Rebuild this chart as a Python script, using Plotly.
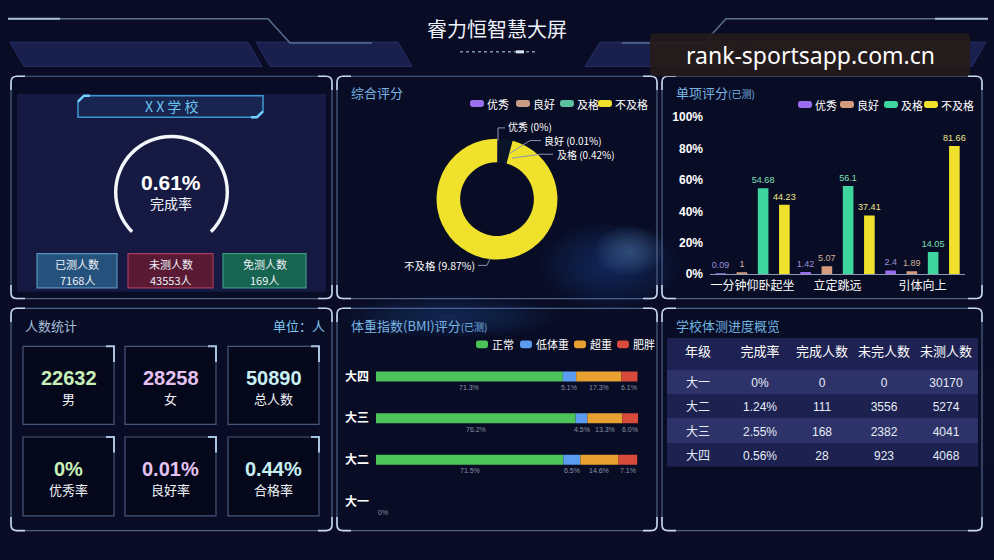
import plotly.graph_objects as go

W, H = 994, 560

# ---------------- data ----------------
school_name = "X X 学 校"
completion_rate = "0.61%"
gauge_arc = [75, 25]  # decorative ring (arc / gap)
summary_labels = ["已测人数", "未测人数", "免测人数"]
summary_values = ["7168人", "43553人", "169人"]

pie_labels = ["优秀", "良好", "及格", "不及格"]
pie_values = [0, 0.01, 0.42, 9.87]
pie_text = ["优秀 (0%)", "良好 (0.01%)", "及格 (0.42%)", "不及格 (9.87%)"]

item_categories = ["一分钟仰卧起坐", "立定跳远", "引体向上"]
item_series = ["优秀", "良好", "及格", "不及格"]
item_excellent = [0.09, 1.42, 2.4]
item_good = [1, 5.07, 1.89]
item_pass = [54.68, 56.1, 14.05]
item_fail = [44.23, 37.41, 81.66]
item_ticks = [0, 20, 40, 60, 80, 100]
item_tick_labels = ["0%", "20%", "40%", "60%", "80%", "100%"]

stats_values = ["22632", "28258", "50890", "0%", "0.01%", "0.44%"]
stats_labels = ["男", "女", "总人数", "优秀率", "良好率", "合格率"]

bmi_grades = ["大一", "大二", "大三", "大四"]
bmi_series = ["正常", "低体重", "超重", "肥胖"]
bmi_normal = [0, 71.5, 76.2, 71.3]
bmi_under = [0, 6.5, 4.5, 5.1]
bmi_over = [0, 14.6, 13.3, 17.3]
bmi_obese = [0, 7.1, 6.0, 6.1]

table_header = ["年级", "完成率", "完成人数", "未完人数", "未测人数"]
table_grade = ["大一", "大二", "大三", "大四"]
table_rate = ["0%", "1.24%", "2.55%", "0.56%"]
table_done = [0, 111, 168, 28]
table_undone = [0, 3556, 2382, 923]
table_untested = [30170, 5274, 4041, 4068]

# ---------------- helpers ----------------
def px(x):
    return x / W


def py(y):
    return 1 - y / H


shapes = []
annotations = []
CJK = "Noto Sans CJK SC, Liberation Sans, sans-serif"
LAT = "Liberation Sans, Noto Sans CJK SC, sans-serif"


def poly(pts, fill=None, line=None, lw=1, closed=True, layer="below", dash=None, opacity=1):
    d = "M" + " L".join(f"{px(x):.5f},{py(y):.5f}" for x, y in pts)
    if closed:
        d += " Z"
    s = dict(type="path", path=d, xref="paper", yref="paper", layer=layer, opacity=opacity,
             fillcolor=fill if fill else "rgba(0,0,0,0)",
             line=dict(color=line if line else "rgba(0,0,0,0)", width=lw if line else 0))
    if dash:
        s["line"]["dash"] = dash
    shapes.append(s)


def rrect(x0, y0, x1, y1, r=0, fill=None, line=None, lw=1, layer="below", opacity=1):
    if r == 0:
        poly([(x0, y0), (x1, y0), (x1, y1), (x0, y1)], fill, line, lw, layer=layer, opacity=opacity)
        return
    P = lambda x, y: f"{px(x):.5f},{py(y):.5f}"
    d = (f"M{P(x0 + r, y0)} L{P(x1 - r, y0)} Q{P(x1, y0)} {P(x1, y0 + r)} "
         f"L{P(x1, y1 - r)} Q{P(x1, y1)} {P(x1 - r, y1)} L{P(x0 + r, y1)} "
         f"Q{P(x0, y1)} {P(x0, y1 - r)} L{P(x0, y0 + r)} Q{P(x0, y0)} {P(x0 + r, y0)} Z")
    shapes.append(dict(type="path", path=d, xref="paper", yref="paper", layer=layer, opacity=opacity,
                       fillcolor=fill if fill else "rgba(0,0,0,0)",
                       line=dict(color=line if line else "rgba(0,0,0,0)", width=lw if line else 0)))


def corners(x0, y0, x1, y1, r=6, L=14, color="#c6d6ee", lw=1.6):
    P = lambda x, y: f"{px(x):.5f},{py(y):.5f}"
    segs = [
        f"M{P(x0, y0 + L)} L{P(x0, y0 + r)} Q{P(x0, y0)} {P(x0 + r, y0)} L{P(x0 + L, y0)}",
        f"M{P(x1 - L, y0)} L{P(x1 - r, y0)} Q{P(x1, y0)} {P(x1, y0 + r)} L{P(x1, y0 + L)}",
        f"M{P(x0, y1 - L)} L{P(x0, y1 - r)} Q{P(x0, y1)} {P(x0 + r, y1)} L{P(x0 + L, y1)}",
        f"M{P(x1 - L, y1)} L{P(x1 - r, y1)} Q{P(x1, y1)} {P(x1, y1 - r)} L{P(x1, y1 - L)}",
    ]
    for d in segs:
        shapes.append(dict(type="path", path=d, xref="paper", yref="paper", layer="below",
                           fillcolor="rgba(0,0,0,0)", line=dict(color=color, width=lw)))


def glow(cx, cy, rx, ry, rgb, alpha, steps=10):
    # soft nebula glow: stacked translucent ellipses
    for i in range(steps):
        f = 1 - i / steps
        shapes.append(dict(type="circle", xref="paper", yref="paper",
                           x0=px(cx - rx * f), x1=px(cx + rx * f),
                           y0=py(cy + ry * f), y1=py(cy - ry * f),
                           fillcolor=f"rgba({rgb},{alpha})", line=dict(width=0), layer="below"))


def txt(x, y, text, size=12, color="white", anchor="center", family=CJK):
    annotations.append(dict(x=px(x), y=py(y), xref="paper", yref="paper", text=text,
                            showarrow=False, xanchor=anchor, yanchor="middle", borderpad=0,
                            font=dict(size=size, color=color, family=family)))


def swatch(x, y, color, w=14, h=7):
    rrect(x, y - h / 2, x + w, y + h / 2, r=2.5, fill=color)


# ---------------- background / header ----------------
poly([(10, 36), (248, 36), (262, 61), (24, 61)], fill="#19204d", line="#262e66", lw=1)
poly([(256, 36), (398, 36), (412, 61), (270, 61)], fill="#19204d", line="#262e66", lw=1)
poly([(585, 61), (600, 36), (742, 36), (727, 61)], fill="#19204d", line="#262e66", lw=1)
poly([(735, 61), (750, 36), (986, 36), (972, 61)], fill="#19204d", line="#262e66", lw=1)

poly([(8, 12), (268, 12), (290, 37), (372, 37)], line="#5a6e92", lw=1.5, closed=False)
poly([(622, 37), (704, 37), (726, 12), (988, 12)], line="#5a6e92", lw=1.5, closed=False)
poly([(8, 12), (60, 12)], line="#a8bcd8", lw=2, closed=False)
poly([(935, 12), (988, 12)], line="#a8bcd8", lw=2, closed=False)
poly([(460, 46), (536, 46)], line="#7c90b4", lw=1.5, closed=False, dash="dot")
poly([(516, 46), (524, 46)], line="#d8e4f4", lw=3, closed=False)

txt(497, 22, "睿力恒智慧大屏", size=20, color="#eef2fa")

# ---------------- panels ----------------
panels = [(11, 71, 332, 299), (337, 71, 657, 299), (662, 71, 982, 299),
          (11, 309, 332, 537), (337, 309, 657, 537), (662, 309, 982, 537)]
for (x0, y0, x1, y1) in panels:
    rrect(x0, y0, x1, y1, r=6, fill="rgba(8,12,36,0.55)", line="#4f6288", lw=1.2)

# nebula glow (panel 2 lower right, panel 5 top)
glow(610, 265, 70, 45, "60,110,200", 0.04)
glow(630, 250, 35, 25, "120,170,235", 0.04)
glow(450, 318, 110, 22, "60,110,200", 0.035)

for (x0, y0, x1, y1) in panels:
    corners(x0, y0, x1, y1)

# panel 1: school summary
rrect(17, 89, 326, 292, fill="#161a42")
poly([(84, 91), (263, 91), (263, 107), (257, 113), (78, 113), (78, 97)],
     fill="rgba(30,60,110,0.35)", line="#3a9ad0", lw=1.5)
poly([(78, 97), (84, 91), (90, 91)], line="#6fd0ff", lw=2.5, closed=False)
poly([(263, 107), (257, 113), (251, 113)], line="#6fd0ff", lw=2.5, closed=False)
txt(171, 102, school_name, size=14, color="#6cc4ec")
txt(171, 180, f"<b>{completion_rate}</b>", size=21, color="white", family=LAT)
txt(171, 201, "完成率", size=14, color="#f0f2f8")

box_specs = [((37, 253, 117, 288), "#25527c", "#5a92bc"),
             ((128, 253, 213, 288), "#5a1a34", "#a83c5a"),
             ((223, 253, 306, 288), "#176450", "#3b9c80")]
for ((x0, y0, x1, y1), f, l), lab, val in zip(box_specs, summary_labels, summary_values):
    rrect(x0, y0, x1, y1, fill=f, line=l, lw=1.2)
    cx = (x0 + x1) / 2
    txt(cx, 264, lab, size=11, color="#eef2f8")
    txt(cx, 279.5, val, size=11, color="#eef2f8")

# panel 2: pie titles / legend
txt(350, 88, "综合评分", size=13, color="#78b4e4", anchor="left")
pie_colors = ["#9a70f0", "#c99c84", "#5cc0a0", "#f0e22c"]
for x, lab, c in zip([470, 516, 560, 598], pie_labels, pie_colors):
    swatch(x, 99, c)
    txt(x + 16, 99, lab, size=11, color="white", anchor="left")

# pie labels + leader lines
lc = "#8b95ac"
poly([(505, 124), (498, 124), (498, 137)], line=lc, lw=1, closed=False, layer="above")
poly([(541, 137), (530, 137), (510, 150)], line=lc, lw=1, closed=False, layer="above")
poly([(553, 151), (540, 151), (512, 155)], line=lc, lw=1, closed=False, layer="above")
poly([(478, 265), (487, 265), (490, 258)], line=lc, lw=1, closed=False, layer="above")
txt(507, 123, pie_text[0], size=10, color="white", anchor="left")
txt(543, 137, pie_text[1], size=10, color="white", anchor="left")
txt(556, 151, pie_text[2], size=10, color="white", anchor="left")
txt(476, 265, pie_text[3], size=10.5, color="white", anchor="right")

# panel 3: bar titles / legend
txt(675, 88, "单项评分<span style='font-size:10px'>(已测)</span>", size=13, color="#78b4e4", anchor="left")
item_colors = ["#9b6cf0", "#d49c7c", "#3ed69e", "#f0e22c"]
label_colors = ["#9c8cd8", "#d2b29a", "#7fe0bc", "#f2ea8c"]
for x, lab, c in zip([798, 840, 884, 924], item_series, item_colors):
    swatch(x, 100, c)
    txt(x + 16, 100, lab, size=11, color="white", anchor="left")

# panel 4: statistics
txt(24, 327, "人数统计", size=13, color="#a8c0dc", anchor="left")
txt(326, 327, "单位：人", size=13, color="#7ec8f0", anchor="right")
cols = [(23, 114), (125, 216), (228, 319)]
rows = [(348, 428), (441, 522)]
num_colors = ["#c8f0b8", "#e6c2f2", "#c8f0f4"]
k = 0
for (y0, y1) in rows:
    for ci, (x0, x1) in enumerate(cols):
        rrect(x0, y0, x1, y1, fill="rgba(4,6,18,0.55)", line="#48587a", lw=1.2)
        poly([(x1 - 8, y0), (x1, y0), (x1, y0 + 16)], line="#a8c4e0", lw=2, closed=False)
        cx = (x0 + x1) / 2
        txt(cx, y0 + 33, f"<b>{stats_values[k]}</b>", size=20, color=num_colors[ci], family=LAT)
        txt(cx, y0 + 54, stats_labels[k], size=13, color="#f0f2f8")
        k += 1

# panel 5: BMI titles / legend
txt(350, 327, "体重指数(BMI)评分<span style='font-size:10px'>(已测)</span>", size=13,
    color="#78b4e4", anchor="left")
bmi_colors = ["#4cc45a", "#5b9bf0", "#e8a030", "#d84a3a"]
for x, lab, c in zip([476, 520, 574, 617], bmi_series, bmi_colors):
    swatch(x, 346, c, w=12, h=8)
    txt(x + 15, 346, lab, size=11, color="white", anchor="left")

# panel 6: table title + background
txt(675, 327, "学校体测进度概览", size=13, color="#70b4e0", anchor="left")
rrect(667, 340, 977, 470, r=6, fill="#1d2252")

# watermark
rrect(650, 27, 970, 71, r=5, fill="rgba(36,27,25,0.94)", layer="above")
txt(810, 49, "rank-sportsapp.com.cn", size=23, color="white", family="Noto Sans, sans-serif")

# ---------------- traces ----------------
fig = go.Figure()

# gauge ring
fig.add_trace(go.Pie(values=gauge_arc, marker=dict(colors=["#f4f6fa", "rgba(0,0,0,0)"], line=dict(width=0)),
                     hole=0.94, sort=False, direction="clockwise", rotation=225, textinfo="none",
                     hoverinfo="skip", showlegend=False,
                     domain=dict(x=[px(171.5 - 59), px(171.5 + 59)], y=[py(190 + 59), py(190 - 59)])))

# donut
fig.add_trace(go.Pie(labels=pie_labels, values=pie_values,
                     marker=dict(colors=["#9a70f0", "#c99c84", "rgba(60,190,150,0.05)", "#f0e22c"],
                                 line=dict(width=0)),
                     hole=0.61, sort=False, direction="clockwise", rotation=0, textinfo="none",
                     hoverinfo="label+percent", showlegend=False,
                     domain=dict(x=[px(435), px(559)], y=[py(259), py(135)])))

# grouped bars
for name, vals, c, tc in zip(item_series, [item_excellent, item_good, item_pass, item_fail],
                             item_colors, label_colors):
    fig.add_trace(go.Bar(x=item_categories, y=vals, name=name, marker=dict(color=c, line=dict(width=0)),
                         text=[str(v) for v in vals], texttemplate="%{text}", textposition="outside",
                         constraintext="none",
                         textfont=dict(size=9, color=tc, family=LAT), cliponaxis=False,
                         xaxis="x", yaxis="y", showlegend=False))

# BMI stacked bars (explicit base)
bmi_all = [bmi_normal, bmi_under, bmi_over, bmi_obese]
running = [0.0] * len(bmi_grades)
for name, vals, c in zip(bmi_series, bmi_all, bmi_colors):
    base = list(running)
    fig.add_trace(go.Bar(y=bmi_grades, x=vals, base=base, orientation="h", name=name,
                         width=0.24, offset=-0.12, marker=dict(color=c, line=dict(width=0)),
                         xaxis="x2", yaxis="y2", showlegend=False))
    for gi, g in enumerate(bmi_grades):
        if vals[gi] > 0 or (name == bmi_series[0]):
            annotations.append(dict(x=base[gi] + vals[gi] / 2 if vals[gi] > 0 else 0,
                                    y=g, xref="x2", yref="y2", yshift=-11,
                                    text=f"{vals[gi]}%" if vals[gi] > 0 else "0%",
                                    xanchor="center" if vals[gi] > 0 else "left",
                                    showarrow=False, font=dict(size=7, color="#8a94aa", family=LAT)))
    running = [r + v for r, v in zip(running, vals)]

# table
row_fills = ["#2d3368", "#1c2150", "#2d3368", "#1c2150"]
fig.add_trace(go.Table(
    domain=dict(x=[px(667), px(977)], y=[py(472), py(340)]),
    columnwidth=[1, 1, 1, 1, 1],
    header=dict(values=table_header, fill_color="#1d2252", line_color="#1d2252",
                font=dict(color="white", size=13, family=CJK), height=31, align="center"),
    cells=dict(values=[table_grade, table_rate, table_done, table_undone, table_untested],
               fill_color=[row_fills] * 5, line_color=[row_fills] * 5,
               font=dict(color="#e6ecf8", size=12, family=LAT), height=24.5, align="center")))

fig.update_layout(
    width=W, height=H, margin=dict(l=0, r=0, t=0, b=0),
    paper_bgcolor="#090c24", plot_bgcolor="rgba(0,0,0,0)",
    barmode="group", bargap=0, bargroupgap=0.5, showlegend=False,
    font=dict(family=CJK, color="white"),
    shapes=shapes, annotations=annotations,
    xaxis=dict(domain=[px(710), px(965)], anchor="y", showline=True, linecolor="#8c9ab6", linewidth=1,
               showgrid=False, zeroline=False, ticks="", tickfont=dict(size=12, color="white", family=CJK),
               fixedrange=True),
    yaxis=dict(domain=[py(274), py(113)], anchor="x", range=[0, 100], tickvals=item_ticks,
               ticktext=item_tick_labels, showgrid=False, zeroline=False, showline=False, ticks="",
               ticklabelstandoff=6, tickfont=dict(size=12, color="white", family=LAT, weight="bold"),
               fixedrange=True),
    xaxis2=dict(domain=[px(376), px(638)], anchor="y2", range=[0, 100], visible=False, fixedrange=True),
    yaxis2=dict(domain=[py(528.3), py(357.7)], anchor="x2", categoryorder="array",
                categoryarray=bmi_grades, showgrid=False, zeroline=False, showline=False, ticks="",
                ticklabelstandoff=6, tickfont=dict(size=12, color="white", family=CJK, weight="bold"),
                fixedrange=True),
)

fig.write_html("out.html")
